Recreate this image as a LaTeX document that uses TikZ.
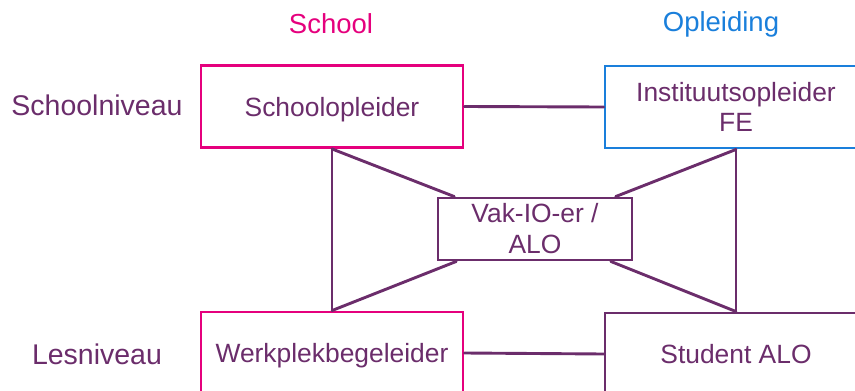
\documentclass[tikz,border=0pt]{standalone}
\usepackage{fontspec}
\setmainfont{Liberation Sans}
\usetikzlibrary{calc}
\definecolor{schoolpink}{HTML}{E5007D}
\definecolor{opleidingblue}{HTML}{1A7FDB}
\definecolor{rolepurple}{HTML}{6B2D6B}
\begin{document}
\begin{tikzpicture}[x=1pt,y=-1pt,
  rolebox/.style={draw, line width=2.9pt, fill=white, text=rolepurple,
    minimum width=262pt, minimum height=82pt, align=center,
    font=\fontsize{26.4}{30.5}\selectfont, inner sep=0pt},
  oneline/.style={text height=19pt, text depth=0pt},
  heading/.style={font=\fontsize{27.5}{32}\selectfont},
  levellabel/.style={text=rolepurple, font=\fontsize{28.5}{33}\selectfont},
  link/.style={draw=rolepurple, line width=2.9pt, line cap=round}]
\useasboundingbox (0,0) rectangle (855,391);

% column headings
\node[heading, text=schoolpink] (hschool) at (331,24) {School};
\node[heading, text=opleidingblue] (hopl) at (721,24) {Opleiding};

% level labels
\node[levellabel] (lschool) at (97,105) {Schoolniveau};
\node[levellabel] (lles) at (97,354) {Lesniveau};

% role boxes
\node[rolebox, oneline, draw=schoolpink] (sop) at (332,106.5) {Schoolopleider};
\node[rolebox, draw=opleidingblue] (iop) at (736,107) {Instituutsopleider\\FE};
\node[rolebox, oneline, draw=schoolpink] (wpb) at (332,353) {Werkplekbegeleider};
\node[rolebox, oneline, draw=rolepurple] (stu) at (736,354) {Student ALO};
\node[rolebox, draw=rolepurple, minimum width=194pt, minimum height=62pt,
      font=\fontsize{26.4}{31}\selectfont] (vak) at (535,229) {Vak-IO-er /\\ALO};

% horizontal links
\draw[link] (sop.east) -- (iop.west);
\draw[link] (wpb.east) -- (stu.west);

% left triangle shape
\draw[link] (sop.south) -- (wpb.north);
\draw[link] (sop.south) -- ($(vak.north west)!0.09!(vak.north east)$);
\draw[link] (wpb.north) -- ($(vak.south west)!0.1!(vak.south east)$);

% right triangle shape
\draw[link] (iop.south) -- (stu.north);
\draw[link] (iop.south) -- ($(vak.north west)!0.91!(vak.north east)$);
\draw[link] (stu.north) -- ($(vak.south west)!0.885!(vak.south east)$);
\end{tikzpicture}
\end{document}
